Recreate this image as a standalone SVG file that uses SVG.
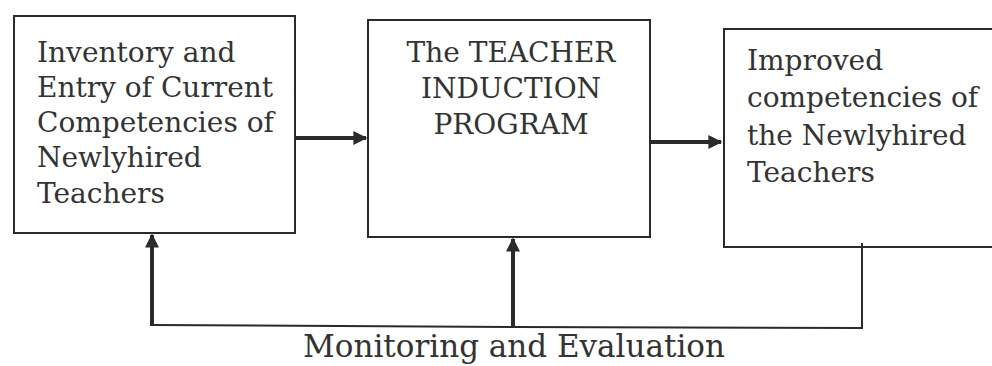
<svg xmlns="http://www.w3.org/2000/svg" width="992" height="366" viewBox="0 0 992 366">
<defs>
<marker id="ah" viewBox="0 0 10 10" refX="9" refY="5" markerWidth="4" markerHeight="3.5" orient="auto" markerUnits="strokeWidth">
<path d="M0,0 L10,5 L0,10 z" fill="#2a2a2a"/>
</marker>
<style>
.box{fill:#fff;stroke:#2a2a2a;stroke-width:2}
.t{font-family:"DejaVu Serif","Liberation Serif",serif;font-size:28px;fill:#333}
.thick{stroke:#2a2a2a;stroke-width:4;fill:none}
.thin{stroke:#2a2a2a;stroke-width:2;fill:none}
</style>
</defs>
<rect width="992" height="366" fill="#fff"/>
<g id="node-inventory">
<rect class="box" x="14" y="16" width="281" height="217"/>
<text class="t" x="37" y="62">Inventory and</text>
<text class="t" x="37" y="97">Entry of Current</text>
<text class="t" x="37" y="132">Competencies of</text>
<text class="t" x="37" y="167">Newlyhired</text>
<text class="t" x="37" y="203">Teachers</text>
</g>
<g id="node-program">
<rect class="box" x="368" y="20" width="282" height="217"/>
<text class="t" x="511" y="62" text-anchor="middle">The TEACHER</text>
<text class="t" x="511" y="98" text-anchor="middle">INDUCTION</text>
<text class="t" x="511" y="134" text-anchor="middle">PROGRAM</text>
</g>
<g id="node-improved">
<rect class="box" x="724" y="29" width="280" height="218"/>
<text class="t" x="747" y="70">Improved</text>
<text class="t" x="747" y="107">competencies of</text>
<text class="t" x="747" y="145">the Newlyhired</text>
<text class="t" x="747" y="182">Teachers</text>
</g>
<g id="connectors">
<line class="thick" x1="296" y1="138" x2="366" y2="138" marker-end="url(#ah)"/>
<line class="thick" x1="651" y1="142" x2="721" y2="142" marker-end="url(#ah)"/>
<polyline class="thin" points="862,243 862,328 513,327 152,325"/>
<line class="thick" x1="152" y1="326" x2="152" y2="235" marker-end="url(#ah)"/>
<line class="thick" x1="513" y1="327" x2="513" y2="239" marker-end="url(#ah)"/>
</g>
<text class="t" x="514" y="357" text-anchor="middle" style="font-size:31px">Monitoring and Evaluation</text>
</svg>
